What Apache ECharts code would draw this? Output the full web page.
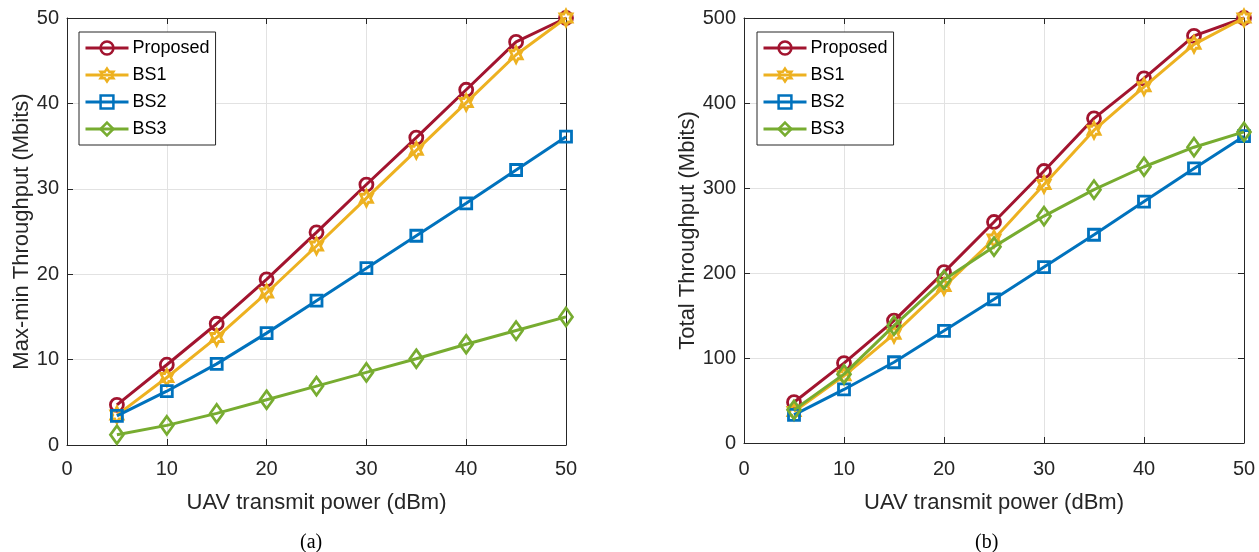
<!DOCTYPE html>
<html>
<head>
<meta charset="utf-8">
<script src="https://cdn.jsdelivr.net/npm/echarts@6/dist/echarts.min.js"></script>
<style>
html,body{margin:0;padding:0;background:#fff;}
#chart{width:1259px;height:552px;}
</style>
</head>
<body>
<div id="chart"></div>
<script>
// ---- data ----
const power = [5, 10, 15, 20, 25, 30, 35, 40, 45, 50];
const seriesNames = ['Proposed', 'BS1', 'BS2', 'BS3'];
const xTicks = [0, 10, 20, 30, 40, 50];
// (a) Max-min throughput (Mbits)
const proposedA = [4.7, 9.4, 14.2, 19.4, 24.9, 30.5, 36.0, 41.6, 47.2, 50.0];
const bs1A      = [3.5, 7.9, 12.6, 17.8, 23.3, 28.9, 34.5, 40.1, 45.7, 50.0];
const bs2A      = [3.4, 6.3, 9.5, 13.1, 16.9, 20.7, 24.5, 28.3, 32.2, 36.1];
const bs3A      = [1.2, 2.3, 3.7, 5.3, 6.9, 8.5, 10.1, 11.8, 13.4, 15.0];
// (b) Total throughput (Mbits)
const proposedB = [48, 94, 144, 201, 260, 320, 382, 429, 479, 500];
const bs1B      = [37, 79, 128, 184, 240, 304, 368, 419, 469, 500];
const bs2B      = [33, 63, 95, 132, 169, 207, 245, 284, 323, 361];
const bs3B      = [39, 81, 138, 192, 231, 267, 298, 325, 348, 366];

const colors = ['#A2142F', '#EDB120', '#0072BD', '#77AC30'];
const hexagram = 'path://M0,-100L28.9,-50L86.6,-50L57.7,0L86.6,50L28.9,50L0,100L-28.9,50L-86.6,50L-57.7,0L-86.6,-50L-28.9,-50Z';
const symbols = ['circle', hexagram, 'rect', 'diamond'];
const symbolSizes = [13, [14, 16], 11, [13, 18]];

const FONT = '"Liberation Sans", Arial, Helvetica, sans-serif';
const TXT = '#262626';
const GRIDC = '#e2e2e2';

const chart = echarts.init(document.getElementById('chart'), null, {renderer: 'canvas'});

function xAxes(gi, labelMargin, nameGap) {
  return [
    {
      gridIndex: gi, type: 'value', min: 0, max: 50, interval: 10, position: 'bottom',
      name: 'UAV transmit power (dBm)', nameLocation: 'middle', nameGap: nameGap,
      nameTextStyle: {fontFamily: FONT, fontSize: 22, color: TXT},
      axisLine: {show: true, onZero: false, lineStyle: {color: TXT, width: 1}},
      axisTick: {show: true, inside: true, length: 6, lineStyle: {color: TXT}},
      axisLabel: {fontFamily: FONT, fontSize: 20, color: TXT, margin: labelMargin},
      splitLine: {show: true, lineStyle: {color: GRIDC, width: 1}}
    },
    {
      gridIndex: gi, type: 'value', min: 0, max: 50, interval: 10, position: 'top',
      axisLine: {show: true, onZero: false, lineStyle: {color: TXT, width: 1}},
      axisTick: {show: true, inside: true, length: 6, lineStyle: {color: TXT}},
      axisLabel: {show: false}, splitLine: {show: false}
    }
  ];
}
function yAxes(gi, max, interval, name, nameGap) {
  return [
    {
      gridIndex: gi, type: 'value', min: 0, max: max, interval: interval, position: 'left',
      name: name, nameLocation: 'middle', nameRotate: 90, nameGap: nameGap,
      nameTextStyle: {fontFamily: FONT, fontSize: 22, color: TXT},
      axisLine: {show: true, onZero: false, lineStyle: {color: TXT, width: 1}},
      axisTick: {show: true, inside: true, length: 6, lineStyle: {color: TXT}},
      axisLabel: {fontFamily: FONT, fontSize: 20, color: TXT, margin: 8},
      splitLine: {show: true, lineStyle: {color: GRIDC, width: 1}}
    },
    {
      gridIndex: gi, type: 'value', min: 0, max: max, interval: interval, position: 'right',
      axisLine: {show: true, onZero: false, lineStyle: {color: TXT, width: 1}},
      axisTick: {show: true, inside: true, length: 6, lineStyle: {color: TXT}},
      axisLabel: {show: false}, splitLine: {show: false}
    }
  ];
}
function mkSeries(name, idx, data, xi, yi) {
  return {
    name: name, type: 'line', xAxisIndex: xi, yAxisIndex: yi,
    data: power.map((p, i) => [p, data[i]]),
    symbol: symbols[idx], symbolSize: symbolSizes[idx], symbolKeepAspect: true,
    showAllSymbol: true, clip: false,
    lineStyle: {color: colors[idx], width: 3},
    itemStyle: {color: 'rgba(0,0,0,0)', borderColor: colors[idx], borderWidth: 2.8},
    emphasis: {disabled: true},
    z: 3 + idx
  };
}
const dataA = [proposedA, bs1A, bs2A, bs3A];
const dataB = [proposedB, bs1B, bs2B, bs3B];
const series = [];
seriesNames.forEach((n, i) => series.push(mkSeries(n, i, dataA[i], 0, 0)));
seriesNames.forEach((n, i) => series.push(mkSeries(n, i, dataB[i], 2, 2)));

function legend(left) {
  return {
    data: seriesNames, orient: 'vertical', left: left, top: 32,
    itemWidth: 43, itemHeight: 16, itemGap: 9,
    padding: [7, 6, 7, 5],
    backgroundColor: '#fff', borderColor: TXT, borderWidth: 1,
    lineStyle: {width: 3},
    itemStyle: {borderWidth: 2.5},
    textStyle: {fontFamily: FONT, fontSize: 18, color: '#000', padding: [0, 0, 0, -1]},
    selectedMode: false
  };
}

chart.setOption({
  animation: false,
  backgroundColor: '#fff',
  grid: [
    {left: 67, top: 18, width: 499, height: 427},
    {left: 744, top: 18, width: 500, height: 425}
  ],
  xAxis: [...xAxes(0, 14, 47), ...xAxes(1, 16, 49)],
  yAxis: [...yAxes(0, 50, 10, 'Max-min Throughput (Mbits)', 26), ...yAxes(1, 500, 100, 'Total Throughput (Mbits)', 44)],
  legend: [legend(79), legend(757)],
  series: series,
  graphic: [
    {type: 'text', left: 300, top: 533, style: {text: '(a)', font: '20px "Liberation Serif", "Times New Roman", serif', fill: '#000'}},
    {type: 'text', left: 975, top: 533, style: {text: '(b)', font: '20px "Liberation Serif", "Times New Roman", serif', fill: '#000'}}
  ]
});
</script>
</body>
</html>
